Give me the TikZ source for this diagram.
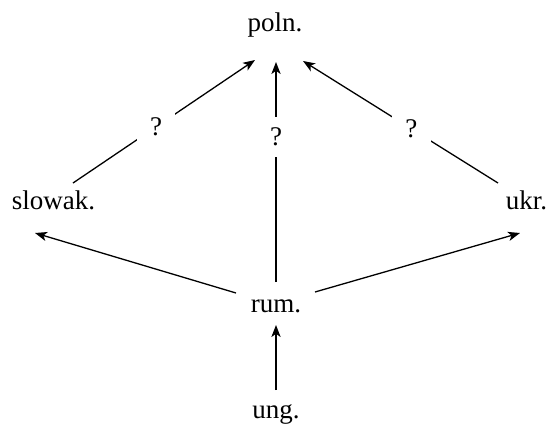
\documentclass[tikz,border=0pt]{standalone}
\usepackage{fontspec}
\setmainfont{Liberation Serif}
\usetikzlibrary{arrows.meta}
\begin{document}
\begin{tikzpicture}[x=0.5pt,y=-0.5pt,
  lang/.style={inner sep=0pt,anchor=base,font=\fontsize{13.5pt}{16pt}\selectfont},
  arr/.style={-{Stealth[length=6pt,width=4.6pt,inset=1.6pt]},line width=0.65pt},
  qlab/.style={fill=white,inner xsep=6.7pt,inner ysep=5.5pt,font=\fontsize{13.5pt}{16pt}\selectfont}]
\useasboundingbox (0,0) rectangle (550,423);
\node[lang] (poln) at (275,32) {poln.};
\node[lang] (slowak) at (53.5,209) {slowak.};
\node[lang] (ukr) at (526.5,209) {ukr.};
\node[lang] (rum) at (276,312) {rum.};
\node[lang] (ung) at (276,418) {ung.};
\draw[arr] ([shift={(19.5,-26)}]slowak.base) -- node[qlab,pos=0.456] {?} ([shift={(-20,28)}]poln.base);
\draw[arr] ([shift={(0,-30)}]rum.base) -- node[qlab,pos=0.66] {?} ([shift={(1,30)}]poln.base);
\draw[arr] ([shift={(-28.5,-26)}]ukr.base) -- node[qlab,pos=0.444] {?} ([shift={(28,29)}]poln.base);
\draw[arr] ([shift={(-40,-19)}]rum.base) -- ([shift={(-18.5,24)}]slowak.base);
\draw[arr] ([shift={(39,-20)}]rum.base) -- ([shift={(-6.5,24)}]ukr.base);
\draw[arr] ([shift={(0,-28)}]ung.base) -- ([shift={(0,13)}]rum.base);
\end{tikzpicture}
\end{document}
